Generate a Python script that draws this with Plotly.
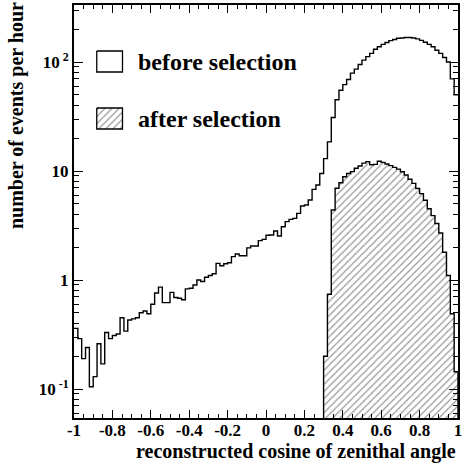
import numpy as np
import plotly.graph_objects as go

# histogram binning: 100 bins over cos(theta) in [-1, 1]
bin_lo = -1.0
bin_width = 0.02

# events per hour, before selection (bins 0..99)
before = [0.36, 0.29, 0.19, 0.24, 0.105, 0.13, 0.26, 0.17, 0.33, 0.29,
          0.31, 0.32, 0.45, 0.34, 0.43, 0.44, 0.45, 0.50, 0.52, 0.49,
          0.60, 0.76, 0.86, 0.62,
          0.62, 0.77, 0.69, 0.68, 0.66, 0.83, 0.84, 0.90, 1.0, 0.97,
          1.06, 1.10, 1.14, 1.42, 1.35, 1.41, 1.44, 1.64, 1.73, 1.67,
          1.67, 1.97, 2.05, 2.05, 2.30, 2.36, 2.57,
          2.59, 2.82, 2.53, 3.08, 3.43, 3.6, 3.68, 4.09, 4.77, 4.88,
          5.42, 6.79, 7.44, 9.5,
          13, 18.5, 31, 45, 55, 62, 69, 79, 86, 95,
          104, 112, 120, 131, 138, 145, 151, 157, 161, 165,
          166, 168, 168, 166, 163, 158, 152, 145, 138, 128,
          120, 110, 100, 70, 50]

# events per hour, after selection (first filled bin is 65, cos = 0.30)
after_first_bin = 65
after = [0.2, 0.74, 4.39, 6.94, 7.8, 8.87, 9.5, 9.86, 10.6, 11.1,
         11.8, 12.2, 11.4, 11.5, 12.3, 12.0, 11.6, 11.2, 10.8, 10.4,
         9.85, 9.2, 8.4, 7.7, 6.9, 6.2, 5.4, 4.5, 3.9, 3.3,
         2.7, 1.8, 1.1, 0.49, 0.144]

xtick_vals = [-1, -0.8, -0.6, -0.4, -0.2, 0, 0.2, 0.4, 0.6, 0.8, 1]
xtick_text = ["-1", "-0.8", "-0.6", "-0.4", "-0.2", "0", "0.2", "0.4", "0.6", "0.8", "1"]
ytick_vals = [0.1, 1, 10, 100]
ytick_text = ["10<sup> -1</sup>", "1", "10", "10<sup> 2</sup>"]

FONT = "Liberation Serif"
W, H = 464, 465
L, R, T, B = 74, 2, 5, 47

edges = bin_lo + bin_width * np.arange(len(before) + 1)

fig = go.Figure()

# hatched "after" histogram (closed polygon down below the axis floor)
a_edges = edges[after_first_bin:after_first_bin + len(after) + 1]
base = 1e-3
ax_ = [a_edges[0]] + list(a_edges[:-1]) + [a_edges[-1], a_edges[-1]]
ay_ = [base] + list(after) + [after[-1], base]
hatch = dict(shape="/", size=5, solidity=0.25, fgcolor="#333", bgcolor="white")
fig.add_trace(go.Scatter(x=ax_, y=ay_, mode="lines", line_shape="hv",
                         fill="toself", fillcolor="white", fillpattern=hatch,
                         line=dict(color="black", width=1.4),
                         showlegend=False, hoverinfo="skip"))

# "before" histogram outline
bx = list(edges[:-1]) + [edges[-1]]
by = list(before) + [before[-1]]
fig.add_trace(go.Scatter(x=bx, y=by, mode="lines", line_shape="hv",
                         line=dict(color="black", width=1.4),
                         showlegend=False, hoverinfo="skip"))

# legend boxes on a pixel-coordinate overlay
fig.add_trace(go.Scatter(x=[97, 123, 123, 97, 97], y=[51, 51, 72, 72, 51],
                         mode="lines", fill="toself", fillcolor="white",
                         line=dict(color="black", width=1.3),
                         xaxis="x2", yaxis="y2", showlegend=False, hoverinfo="skip"))
fig.add_trace(go.Scatter(x=[97, 123, 123, 97, 97], y=[108, 108, 129, 129, 108],
                         mode="lines", fill="toself", fillcolor="white", fillpattern=hatch,
                         line=dict(color="black", width=1.3),
                         xaxis="x2", yaxis="y2", showlegend=False, hoverinfo="skip"))

fig.add_annotation(x=137, y=62, xref="x2", yref="y2", text="<b>before selection</b>",
                   showarrow=False, xanchor="left", yanchor="middle",
                   font=dict(family=FONT, size=24, color="black"))
fig.add_annotation(x=137, y=119, xref="x2", yref="y2", text="<b>after selection</b>",
                   showarrow=False, xanchor="left", yanchor="middle",
                   font=dict(family=FONT, size=24, color="black"))

# axis titles (ROOT style, aligned to the far end)
fig.add_annotation(x=1.0, y=(H - B - 451) / (H - T - B), xref="paper", yref="paper",
                   text="<b>reconstructed cosine of zenithal angle</b>", showarrow=False,
                   xanchor="right", yanchor="middle",
                   font=dict(family=FONT, size=20, color="black"))
fig.add_annotation(x=(16 - L) / (W - L - R), y=1.0 + T / (H - T - B), xref="paper", yref="paper",
                   text="<b>number of events per hour</b>", showarrow=False, textangle=-90,
                   xanchor="center", yanchor="top",
                   font=dict(family=FONT, size=20, color="black"))

fig.update_layout(
    width=W, height=H,
    margin=dict(l=L, r=R, t=T, b=B),
    paper_bgcolor="white", plot_bgcolor="white",
    font=dict(family=FONT, color="black"),
    xaxis=dict(range=[-1, 1], tickvals=xtick_vals,
               ticktext=["<b>%s</b>" % t for t in xtick_text],
               ticks="inside", ticklen=8, tickwidth=1, tickcolor="black",
               minor=dict(ticks="inside", ticklen=4, dtick=0.05, tickcolor="black"),
               showline=True, linecolor="black", linewidth=2, mirror="ticks",
               showgrid=False, zeroline=False, ticklabeloverflow="allow",
               ticklabelstandoff=-4,
               tickfont=dict(family=FONT, size=17, color="black")),
    yaxis=dict(type="log", range=[-1.266, 2.523], tickvals=ytick_vals,
               ticktext=["<b>%s</b>" % t for t in ytick_text],
               ticks="inside", ticklen=9, tickwidth=1, tickcolor="black",
               minor=dict(ticks="inside", ticklen=5, dtick="D1", tickcolor="black"),
               showline=True, linecolor="black", linewidth=2, mirror="ticks",
               showgrid=False, zeroline=False,
               tickfont=dict(family=FONT, size=17, color="black")),
    xaxis2=dict(overlaying="x", range=[L, W - R], visible=False, fixedrange=True),
    yaxis2=dict(overlaying="y", range=[H - B, T], visible=False, fixedrange=True),
)

# drop the default 8px body margin so the figure sits at the window corner
fig.write_html("out.html", config={"displayModeBar": False},
               post_script="document.body.style.margin='0px';")
